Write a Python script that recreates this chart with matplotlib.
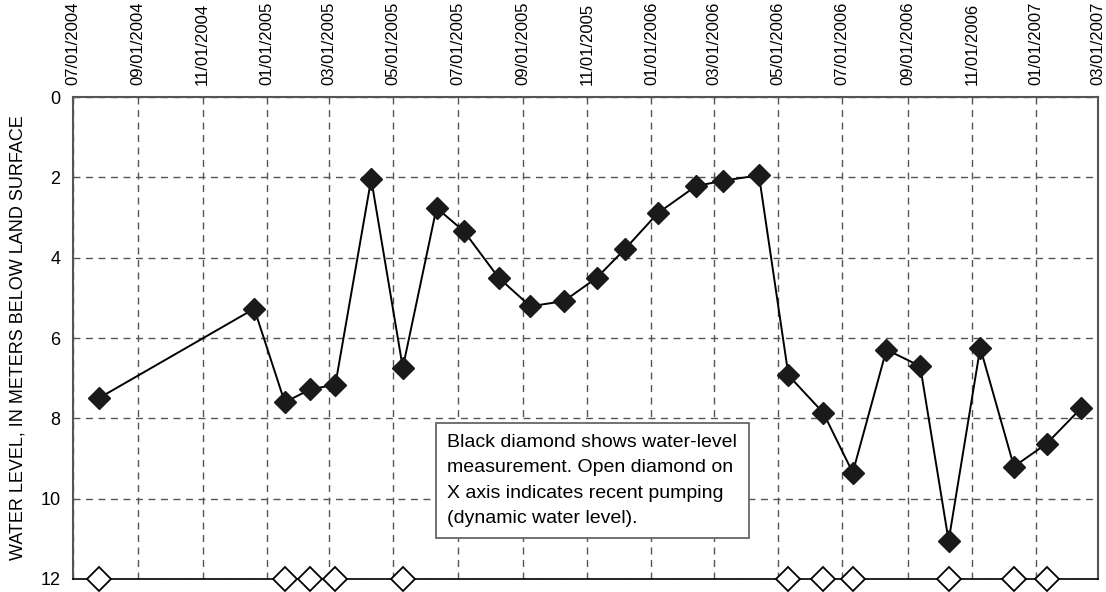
"""
Water level hydrograph, 2004-2007
"""

import datetime as dt
import matplotlib
matplotlib.use("Agg")
import matplotlib.pyplot as plt
import matplotlib.dates as mdates

# measurement dates and water level (m below land surface)
dates = ["2004-07-26", "2004-12-20", "2005-01-18", "2005-02-11", "2005-03-07",
         "2005-04-10", "2005-05-10", "2005-06-11", "2005-07-07", "2005-08-09",
         "2005-09-08", "2005-10-10", "2005-11-10", "2005-12-07", "2006-01-07",
         "2006-02-12", "2006-03-10", "2006-04-13", "2006-05-11", "2006-06-13",
         "2006-07-11", "2006-08-12", "2006-09-13", "2006-10-10", "2006-11-09",
         "2006-12-11", "2007-01-11", "2007-02-13"]
levels = [7.49, 5.27, 7.60, 7.28, 7.16, 2.04, 6.74, 2.76, 3.34, 4.50,
          5.21, 5.08, 4.50, 3.78, 2.89, 2.22, 2.08, 1.95, 6.93, 7.86,
          9.35, 6.29, 6.70, 11.05, 6.24, 9.20, 8.63, 7.74]

# dates with recent pumping (open diamonds on the x axis)
pumped = ["2004-07-26", "2005-01-18", "2005-02-11", "2005-03-07", "2005-05-10",
          "2006-05-11", "2006-06-13", "2006-07-11", "2006-10-10", "2006-12-11",
          "2007-01-11"]

yticks = [0, 2, 4, 6, 8, 10, 12]

x = [dt.datetime.strptime(d, "%Y-%m-%d") for d in dates]
xp = [dt.datetime.strptime(d, "%Y-%m-%d") for d in pumped]

font = ["Liberation Sans", "DejaVu Sans"]

fig = plt.figure(figsize=(11.06, 5.92), dpi=100)
ax = fig.add_axes([0.066, 0.022, 0.927, 0.814])

ax.plot(x, levels, color="black", lw=1.4, marker="D", ms=11,
        mfc="#1a1a1a", mec="#1a1a1a", zorder=3)
ax.plot(xp, [12] * len(xp), ls="none", marker="D", ms=12, mfc="white",
        mec="black", mew=1.3, clip_on=False, zorder=4)

ax.set_xlim(dt.datetime(2004, 7, 1), dt.datetime(2007, 3, 1))
ax.set_ylim(12, 0)
ax.set_yticks(yticks)

ax.xaxis.tick_top()
ax.xaxis.set_major_locator(mdates.MonthLocator(bymonth=[1, 3, 5, 7, 9, 11]))
ax.xaxis.set_major_formatter(mdates.DateFormatter("%m/%d/%Y"))
for lab in ax.get_xticklabels():
    lab.set_rotation(90)
    lab.set_family(font)
    lab.set_fontsize(12)
for lab in ax.get_yticklabels():
    lab.set_family(font)
    lab.set_fontsize(13)
ax.tick_params(length=0, pad=9)

ax.grid(True, color="#555555", ls=(0, (5, 4)), lw=1.0)
for s in ["top", "left", "right"]:
    ax.spines[s].set_color("#555555")
    ax.spines[s].set_linewidth(1.5)
ax.spines["bottom"].set_color("black")
ax.spines["bottom"].set_linewidth(1.2)

ax.set_ylabel("WATER LEVEL, IN METERS BELOW LAND SURFACE", family=font,
              fontsize=13, labelpad=10)

ax.text(0.365, 0.30,
        "Black diamond shows water-level\nmeasurement. Open diamond on\n"
        "X axis indicates recent pumping\n(dynamic water level).",
        transform=ax.transAxes, fontsize=14, family=font,
        va="top", ha="left", linespacing=1.62, zorder=5,
        bbox=dict(boxstyle="square,pad=0.6", fc="white", ec="#666666", lw=1.3))

fig.savefig("out.png", dpi=100)
